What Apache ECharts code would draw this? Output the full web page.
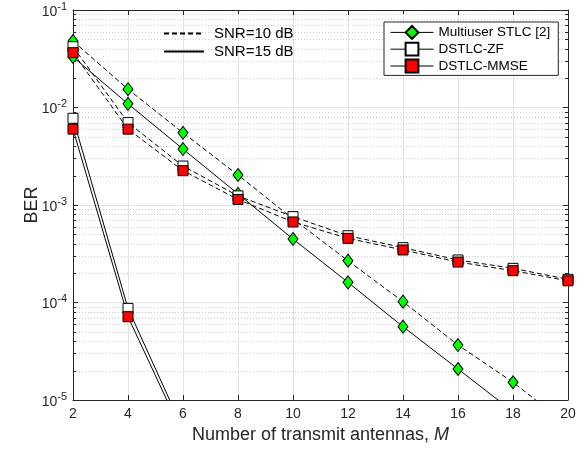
<!DOCTYPE html>
<html>
<head>
<meta charset="utf-8">
<script src="https://cdn.jsdelivr.net/npm/echarts@6/dist/echarts.min.js"></script>
<style>html,body{margin:0;padding:0;background:#fff}#c{width:585px;height:451px}</style>
</head>
<body>
<div id="c"></div>
<script>
// ---- data ----
const antennas = [2, 4, 6, 8, 10, 12, 14, 16, 18, 20];
const stlc10 = [0.048, 0.0154, 0.0055, 0.00203, 0.00072, 0.000268, 0.000102, 3.66e-5, 1.52e-5, 5.5e-6];
const stlc15 = [0.033, 0.0109, 0.00375, 0.0013, 0.000448, 0.000161, 5.65e-5, 2.08e-5, 7.6e-6, 2.7e-6];
const zf10 = [0.042, 0.0070, 0.00251, 0.00124, 0.00076, 0.000484, 0.000365, 0.000273, 0.000224, 0.000173];
const mmse10 = [0.0365, 0.0060, 0.00225, 0.00114, 0.00067, 0.000455, 0.000346, 0.00026, 0.000212, 0.000167];
const antennas15 = [2, 4, 6];
const zf15 = [0.00775, 8.7e-5, 5.0e-6];
const mmse15 = [0.0060, 7.15e-5, 4.4e-6];
const xTicks = [2, 4, 6, 8, 10, 12, 14, 16, 18, 20];
const yDecades = [1e-5, 1e-4, 1e-3, 1e-2, 1e-1];
const minorMultipliers = [2, 3, 4, 5, 6, 7, 8, 9];

const minorVals = [];
for (let i = 0; i < yDecades.length - 1; i++) {
  minorMultipliers.forEach(m => minorVals.push(m * yDecades[i]));
}
const zip = (xs, ys) => xs.map((x, i) => [x, ys[i]]);

const FONT = 'Liberation Sans, Arial, Helvetica, sans-serif';
const AX = '#262626';

const chart = echarts.init(document.getElementById('c'), null, {renderer: 'canvas'});

function lineSeries(name, xs, ys, dashed, symbol, color, size) {
  return {
    name: name,
    type: 'line',
    data: zip(xs, ys),
    xAxisIndex: 0, yAxisIndex: 0,
    symbol: symbol,
    symbolSize: size,
    showAllSymbol: true,
    clip: true,
    lineStyle: {color: '#000', width: 1, type: dashed ? [5, 3] : 'solid'},
    itemStyle: {color: color, borderColor: '#000', borderWidth: 1},
    emphasis: {disabled: true},
    animation: false,
    z: 5
  };
}

const option = {
  backgroundColor: '#fff',
  animation: false,
  textStyle: {fontFamily: FONT},
  grid: {left: 73, right: 17, top: 10, bottom: 51, containLabel: false},
  xAxis: [
    {
      type: 'value', min: 2, max: 20, interval: 2, position: 'bottom',
      name: '{n|Number of transmit antennas, }{i|M}',
      nameLocation: 'middle', nameGap: 26,
      nameTextStyle: {rich: {n: {fontSize: 18, fontFamily: FONT, color: AX}, i: {fontSize: 18, fontFamily: FONT, fontStyle: 'italic', color: AX}}},
      axisLine: {show: true, lineStyle: {color: AX, width: 1}},
      axisTick: {show: true, inside: true, length: 5, lineStyle: {color: AX}},
      axisLabel: {show: true, color: AX, fontSize: 14, fontFamily: FONT, margin: 7},
      splitLine: {show: true, lineStyle: {color: '#e3e3e3', width: 1}}
    },
    {
      type: 'value', min: 2, max: 20, interval: 2, position: 'top',
      axisLine: {show: true, lineStyle: {color: AX, width: 1}},
      axisTick: {show: true, inside: true, length: 5, lineStyle: {color: AX}},
      axisLabel: {show: false},
      splitLine: {show: false}
    }
  ],
  yAxis: [
    {
      type: 'log', logBase: 10, min: 1e-5, max: 1e-1, position: 'left',
      name: 'BER', nameLocation: 'middle', nameGap: 32, nameMoveOverlap: false,
      nameTextStyle: {fontSize: 18, fontFamily: FONT, color: AX},
      axisLine: {show: true, lineStyle: {color: AX, width: 1}},
      axisTick: {show: true, inside: true, length: 5, lineStyle: {color: AX}},
      axisLabel: {
        show: true, margin: 6,
        formatter: v => '{b|10}{s|' + Math.round(Math.log10(v)) + '}',
        rich: {
          b: {fontSize: 14, fontFamily: FONT, color: AX, verticalAlign: 'bottom', padding: [0, 0, 0, 0]},
          s: {fontSize: 11, fontFamily: FONT, color: AX, verticalAlign: 'bottom', padding: [0, 0, 7, 0]}
        }
      },
      splitLine: {show: true, lineStyle: {color: '#e3e3e3', width: 1}}
    },
    {
      type: 'log', logBase: 10, min: 1e-5, max: 1e-1, position: 'right',
      axisLine: {show: true, lineStyle: {color: AX, width: 1}},
      axisTick: {show: true, inside: true, length: 5, lineStyle: {color: AX}},
      axisLabel: {show: false},
      splitLine: {show: false}
    }
  ],
  legend: [
    {
      data: ['Multiuser STLC [2]', 'DSTLC-ZF', 'DSTLC-MMSE'],
      orient: 'vertical',
      left: 384, top: 22,
      padding: [3, 8, 2, 6],
      itemGap: 2,
      itemWidth: 43, itemHeight: 16,
      borderColor: AX, borderWidth: 1, borderRadius: 0,
      backgroundColor: '#fff',
      lineStyle: {type: 'solid', color: '#000', width: 1},
      textStyle: {fontSize: 13.5, fontFamily: FONT, color: '#000', padding: [0, 0, 0, 0]},
      selectedMode: false,
      z: 10
    },
    {
      data: ['SNR=10 dB', 'SNR=15 dB'],
      orient: 'vertical',
      left: 163, top: 26,
      padding: 0,
      itemGap: 3,
      itemWidth: 40, itemHeight: 15,
      itemStyle: {color: 'rgba(0,0,0,0)', borderWidth: 0, borderColor: 'rgba(0,0,0,0)'},
      textStyle: {fontSize: 15, fontFamily: FONT, color: '#000', padding: [0, 0, 0, 5]},
      selectedMode: false,
      z: 10
    }
  ],
  series: [
    {
      type: 'custom',
      xAxisIndex: 0, yAxisIndex: 0,
      data: minorVals.map(v => [2, v]),
      encode: {x: 0, y: 1},
      silent: true,
      z: 1,
      renderItem: function (params, api) {
        const v = api.value(1);
        const p1 = api.coord([2, v]);
        const p2 = api.coord([20, v]);
        const y = Math.round(p1[1]) + 0.5;
        return {
          type: 'group',
          children: [
            {type: 'line', shape: {x1: p1[0], y1: y, x2: p2[0], y2: y}, style: {stroke: '#cccccc', lineWidth: 1, lineDash: [1, 2]}},
            {type: 'line', shape: {x1: p1[0], y1: y, x2: p1[0] + 3, y2: y}, style: {stroke: AX, lineWidth: 1}},
            {type: 'line', shape: {x1: p2[0] - 3, y1: y, x2: p2[0], y2: y}, style: {stroke: AX, lineWidth: 1}}
          ]
        };
      }
    },
    {name: 'SNR=10 dB', type: 'line', data: [], symbol: 'none', legendIcon: 'none', lineStyle: {color: '#000', width: 1, type: [5, 3]}, itemStyle: {color: 'rgba(0,0,0,0)'}},
    {name: 'SNR=15 dB', type: 'line', data: [], symbol: 'none', legendIcon: 'none', lineStyle: {color: '#000', width: 1, type: 'solid'}, itemStyle: {color: 'rgba(0,0,0,0)'}},
    lineSeries('Multiuser STLC [2]', antennas, stlc15, false, 'diamond', '#00ff00', [10, 13]),
    lineSeries('DSTLC-ZF', antennas15, zf15, false, 'rect', '#ffffff', 10),
    lineSeries('DSTLC-MMSE', antennas15, mmse15, false, 'rect', '#ff0000', 10),
    lineSeries('Multiuser STLC [2]', antennas, stlc10, true, 'diamond', '#00ff00', [10, 13]),
    lineSeries('DSTLC-ZF', antennas, zf10, true, 'rect', '#ffffff', 10),
    lineSeries('DSTLC-MMSE', antennas, mmse10, true, 'rect', '#ff0000', 10)
  ]
};
chart.setOption(option);
</script>
</body>
</html>
